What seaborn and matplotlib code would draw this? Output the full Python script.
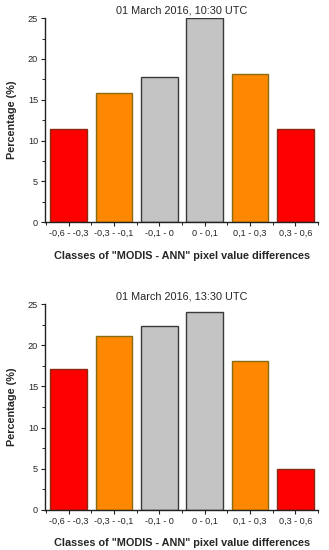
import pandas as pd
import matplotlib.pyplot as plt
from matplotlib.ticker import MultipleLocator
import seaborn as sns

sns.set_theme(style="white")
plt.rcParams['font.family'] = ['Liberation Sans', 'DejaVu Sans']

# Klassen und Werte
classes = ["-0,6 - -0,3", "-0,3 - -0,1", "-0,1 - 0", "0 - 0,1", "0,1 - 0,3", "0,3 - 0,6"]
pct_1030 = [11.4, 15.8, 17.8, 25.0, 18.1, 11.4]
pct_1330 = [17.1, 21.1, 22.4, 24.1, 18.1, 5.0]
titles = ["01 March 2016, 10:30 UTC", "01 March 2016, 13:30 UTC"]

fill_colors = ["#ff0000", "#ff8800", "#c4c4c4", "#c4c4c4", "#ff8800", "#ff0000"]
edge_colors = ["#8a2a12", "#8a6a12", "#3a3a3a", "#3a3a3a", "#8a6a12", "#8a2a12"]

fig = plt.figure(figsize=(3.29, 5.5), dpi=100)
ax_top = fig.add_axes([0.137, 0.596, 0.830, 0.371])
ax_bot = fig.add_axes([0.137, 0.073, 0.830, 0.374])

for ax, vals, title in zip([ax_top, ax_bot], [pct_1030, pct_1330], titles):
    df = pd.DataFrame({"cls": classes, "pct": vals})
    sns.barplot(data=df, x="cls", y="pct", hue="cls", palette=fill_colors,
                width=0.81, legend=False, ax=ax, saturation=1)
    for patch, ec in zip(ax.patches, edge_colors):
        patch.set_edgecolor(ec)
        patch.set_linewidth(1.0)

    ax.set_xlim(-0.52, 5.5)
    ax.set_ylim(0, 25)
    ax.yaxis.set_major_locator(MultipleLocator(5))
    ax.yaxis.set_minor_locator(MultipleLocator(2.5))
    ax.set_xticks(range(len(classes)))
    ax.set_xticklabels(classes)
    ax.set_xticks([i + 0.5 for i in range(-1, len(classes))], minor=True)

    for side in ["top", "right"]:
        ax.spines[side].set_visible(False)
    for side in ["left", "bottom"]:
        ax.spines[side].set_color("#222222")
        ax.spines[side].set_linewidth(1.0)

    ax.tick_params(axis="both", which="major", direction="out", length=3,
                   width=0.8, labelsize=6.6, pad=2, color="#222222",
                   left=True, bottom=True)
    ax.tick_params(axis="both", which="minor", direction="out", length=2,
                   width=0.7, color="#222222", left=True, bottom=True)

    ax.set_title(title, fontsize=7.8, pad=3)
    ax.set_xlabel('Classes of "MODIS - ANN" pixel value differences',
                  fontsize=7.8, fontweight="bold", labelpad=9)
    ax.set_ylabel("Percentage (%)", fontsize=7.8, fontweight="bold", labelpad=8)

plt.savefig("out.png", dpi=100)
plt.close()
